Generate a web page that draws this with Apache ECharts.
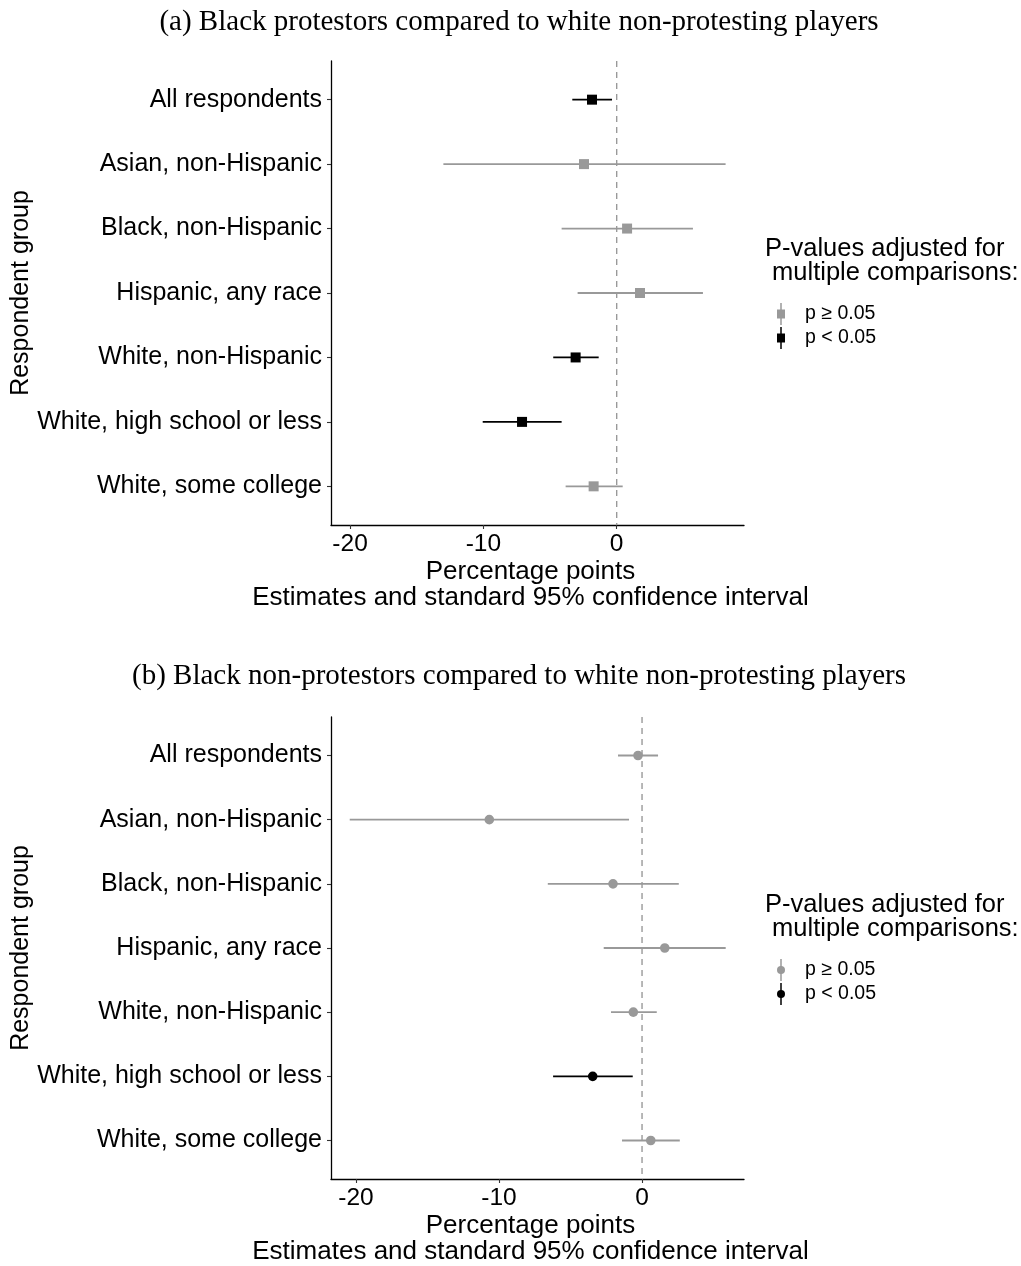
<!DOCTYPE html>
<html>
<head>
<meta charset="utf-8">
<script src="https://cdn.jsdelivr.net/npm/echarts@6/dist/echarts.min.js"></script>
<style>
  html, body { margin: 0; padding: 0; background: #ffffff; }
  #chart { width: 1021px; height: 1266px; }
</style>
</head>
<body>
<div id="chart"></div>
<script>
// Respondent groups, listed top to bottom
const groups = [
  'All respondents',
  'Asian, non-Hispanic',
  'Black, non-Hispanic',
  'Hispanic, any race',
  'White, non-Hispanic',
  'White, high school or less',
  'White, some college'
];

const panelTitles = [
  '(a) Black protestors compared to white non-protesting players',
  '(b) Black non-protestors compared to white non-protesting players'
];

// (a) Black protestors vs. white non-protesting players (percentage points)
const estA = [-1.85, -2.45, 0.78, 1.75, -3.08, -7.10, -1.73];
const lowA = [-3.33, -13.00, -4.13, -2.93, -4.76, -10.05, -3.83];
const highA = [-0.35, 8.17, 5.72, 6.47, -1.35, -4.13, 0.45];
const sigA = [1, 0, 0, 0, 1, 1, 0];

// (b) Black non-protestors vs. white non-protesting players (percentage points)
const estB = [-0.28, -10.68, -2.03, 1.59, -0.61, -3.45, 0.61];
const lowB = [-1.68, -20.44, -6.59, -2.68, -2.17, -6.22, -1.40];
const highB = [1.12, -0.91, 2.57, 5.85, 1.03, -0.65, 2.64];
const sigB = [0, 0, 0, 0, 0, 1, 0];

const xTicks = [-20, -10, 0];
const xTitle = 'Percentage points\nEstimates and standard 95% confidence interval';
const yTitle = 'Respondent group';
const legendTitle = 'P-values adjusted for\n multiple comparisons:';
const legendLabels = ['p \u2265 0.05', 'p < 0.05'];

const GREY = '#999999';
const BLACK = '#000000';
const SANS = '"Liberation Sans", Arial, Helvetica, sans-serif';
const SERIF = '"Liberation Serif", "Times New Roman", serif';

const rows = groups.map((_, i) => i + 1);

const panels = [
  { top: 61, xMin: -21.43, xMax: 9.55, shape: 'square', est: estA, low: lowA, high: highA, sig: sigA, titleY: 22 },
  { top: 717, xMin: -21.75, xMax: 7.13, shape: 'circle', est: estB, low: lowB, high: highB, sig: sigB, titleY: 676 }
];
const GRID_H = 464;

function renderer(shape) {
  return function (params, api) {
    const est = api.value(0), row = api.value(1);
    const lo = api.value(2), hi = api.value(3), sig = api.value(4);
    const color = sig ? BLACK : GREY;
    const a = api.coord([lo, row]);
    const b = api.coord([hi, row]);
    const c = api.coord([est, row]);
    const marker = shape === 'square'
      ? { type: 'rect', shape: { x: c[0] - 5, y: c[1] - 5, width: 10, height: 10 }, style: { fill: color } }
      : { type: 'circle', shape: { cx: c[0], cy: c[1], r: 4.8 }, style: { fill: color } };
    return {
      type: 'group',
      children: [
        { type: 'line', shape: { x1: a[0], y1: a[1], x2: b[0], y2: b[1] }, style: { stroke: color, lineWidth: 1.8 } },
        marker
      ]
    };
  };
}

const grid = [], xAxis = [], yAxis = [], series = [], graphic = [];

panels.forEach((p, k) => {
  grid.push({ left: 331, top: p.top, width: 413, height: GRID_H });

  xAxis.push({
    type: 'value', gridIndex: k, min: p.xMin, max: p.xMax,
    splitLine: { show: false },
    axisLine: { show: true, onZero: false, lineStyle: { color: BLACK, width: 1.3 } },
    axisTick: { show: true, customValues: xTicks, length: 4, lineStyle: { color: '#333333', width: 1.1 } },
    axisLabel: { customValues: xTicks, margin: 7, fontFamily: SANS, fontSize: 24.5, color: BLACK },
    name: xTitle, nameLocation: 'middle', nameGap: 34,
    nameTextStyle: { fontFamily: SANS, fontSize: 26, color: BLACK, lineHeight: 26, padding: [0, 14, 0, 0] }
  });

  yAxis.push({
    type: 'value', gridIndex: k, min: 0.4, max: 7.6, inverse: true,
    splitLine: { show: false },
    axisLine: { show: true, onZero: false, lineStyle: { color: BLACK, width: 1.3 } },
    axisTick: { show: true, customValues: rows, length: 4, lineStyle: { color: '#333333', width: 1.1 } },
    axisLabel: {
      customValues: rows, margin: 9, fontFamily: SANS, fontSize: 25, color: BLACK,
      padding: [4, 0, 0, 0],
      formatter: v => groups[Math.round(v) - 1] || ''
    },
    name: yTitle, nameLocation: 'middle', nameGap: 296, nameRotate: 90,
    nameTextStyle: { fontFamily: SANS, fontSize: 25, color: BLACK }
  });

  // Dashed reference line at zero
  series.push({
    type: 'line', xAxisIndex: k, yAxisIndex: k, silent: true, symbol: 'none', z: 1,
    data: [[0, 0.4], [0, 7.6]],
    lineStyle: { color: GREY, width: 1.4, type: [6, 5] }
  });

  // Estimates with 95% confidence intervals
  series.push({
    type: 'custom', xAxisIndex: k, yAxisIndex: k, z: 3,
    renderItem: renderer(p.shape),
    encode: { x: 0, y: 1 },
    data: groups.map((g, i) => [p.est[i], rows[i], p.low[i], p.high[i], p.sig[i]])
  });

  // Panel title
  graphic.push({
    type: 'text', x: 519, y: p.titleY,
    style: { text: panelTitles[k], font: '29px ' + SERIF, fill: BLACK, align: 'center', verticalAlign: 'middle' }
  });

  // Legend block
  const ly = p.top + 189;
  const children = [
    { type: 'text', x: 765, y: ly - 13, style: { text: legendTitle, font: '25.5px ' + SANS, fill: BLACK, lineHeight: 24 } }
  ];
  legendLabels.forEach((lab, j) => {
    const cy = ly + 64 + j * 24;
    const color = j === 0 ? GREY : BLACK;
    children.push({ type: 'line', shape: { x1: 781, y1: cy - 11, x2: 781, y2: cy + 11 }, style: { stroke: color, lineWidth: 1.5 } });
    children.push(p.shape === 'square'
      ? { type: 'rect', shape: { x: 777, y: cy - 4.5, width: 8, height: 9 }, style: { fill: color } }
      : { type: 'circle', shape: { cx: 781, cy: cy, r: 4 }, style: { fill: color } });
    children.push({ type: 'text', x: 805, y: cy, style: { text: lab, font: '19.5px ' + SANS, fill: BLACK, verticalAlign: 'middle' } });
  });
  graphic.push({ type: 'group', children });
});

const chart = echarts.init(document.getElementById('chart'), null, { renderer: 'canvas' });
chart.setOption({
  animation: false,
  backgroundColor: '#ffffff',
  grid, xAxis, yAxis, series, graphic
});
</script>
</body>
</html>
